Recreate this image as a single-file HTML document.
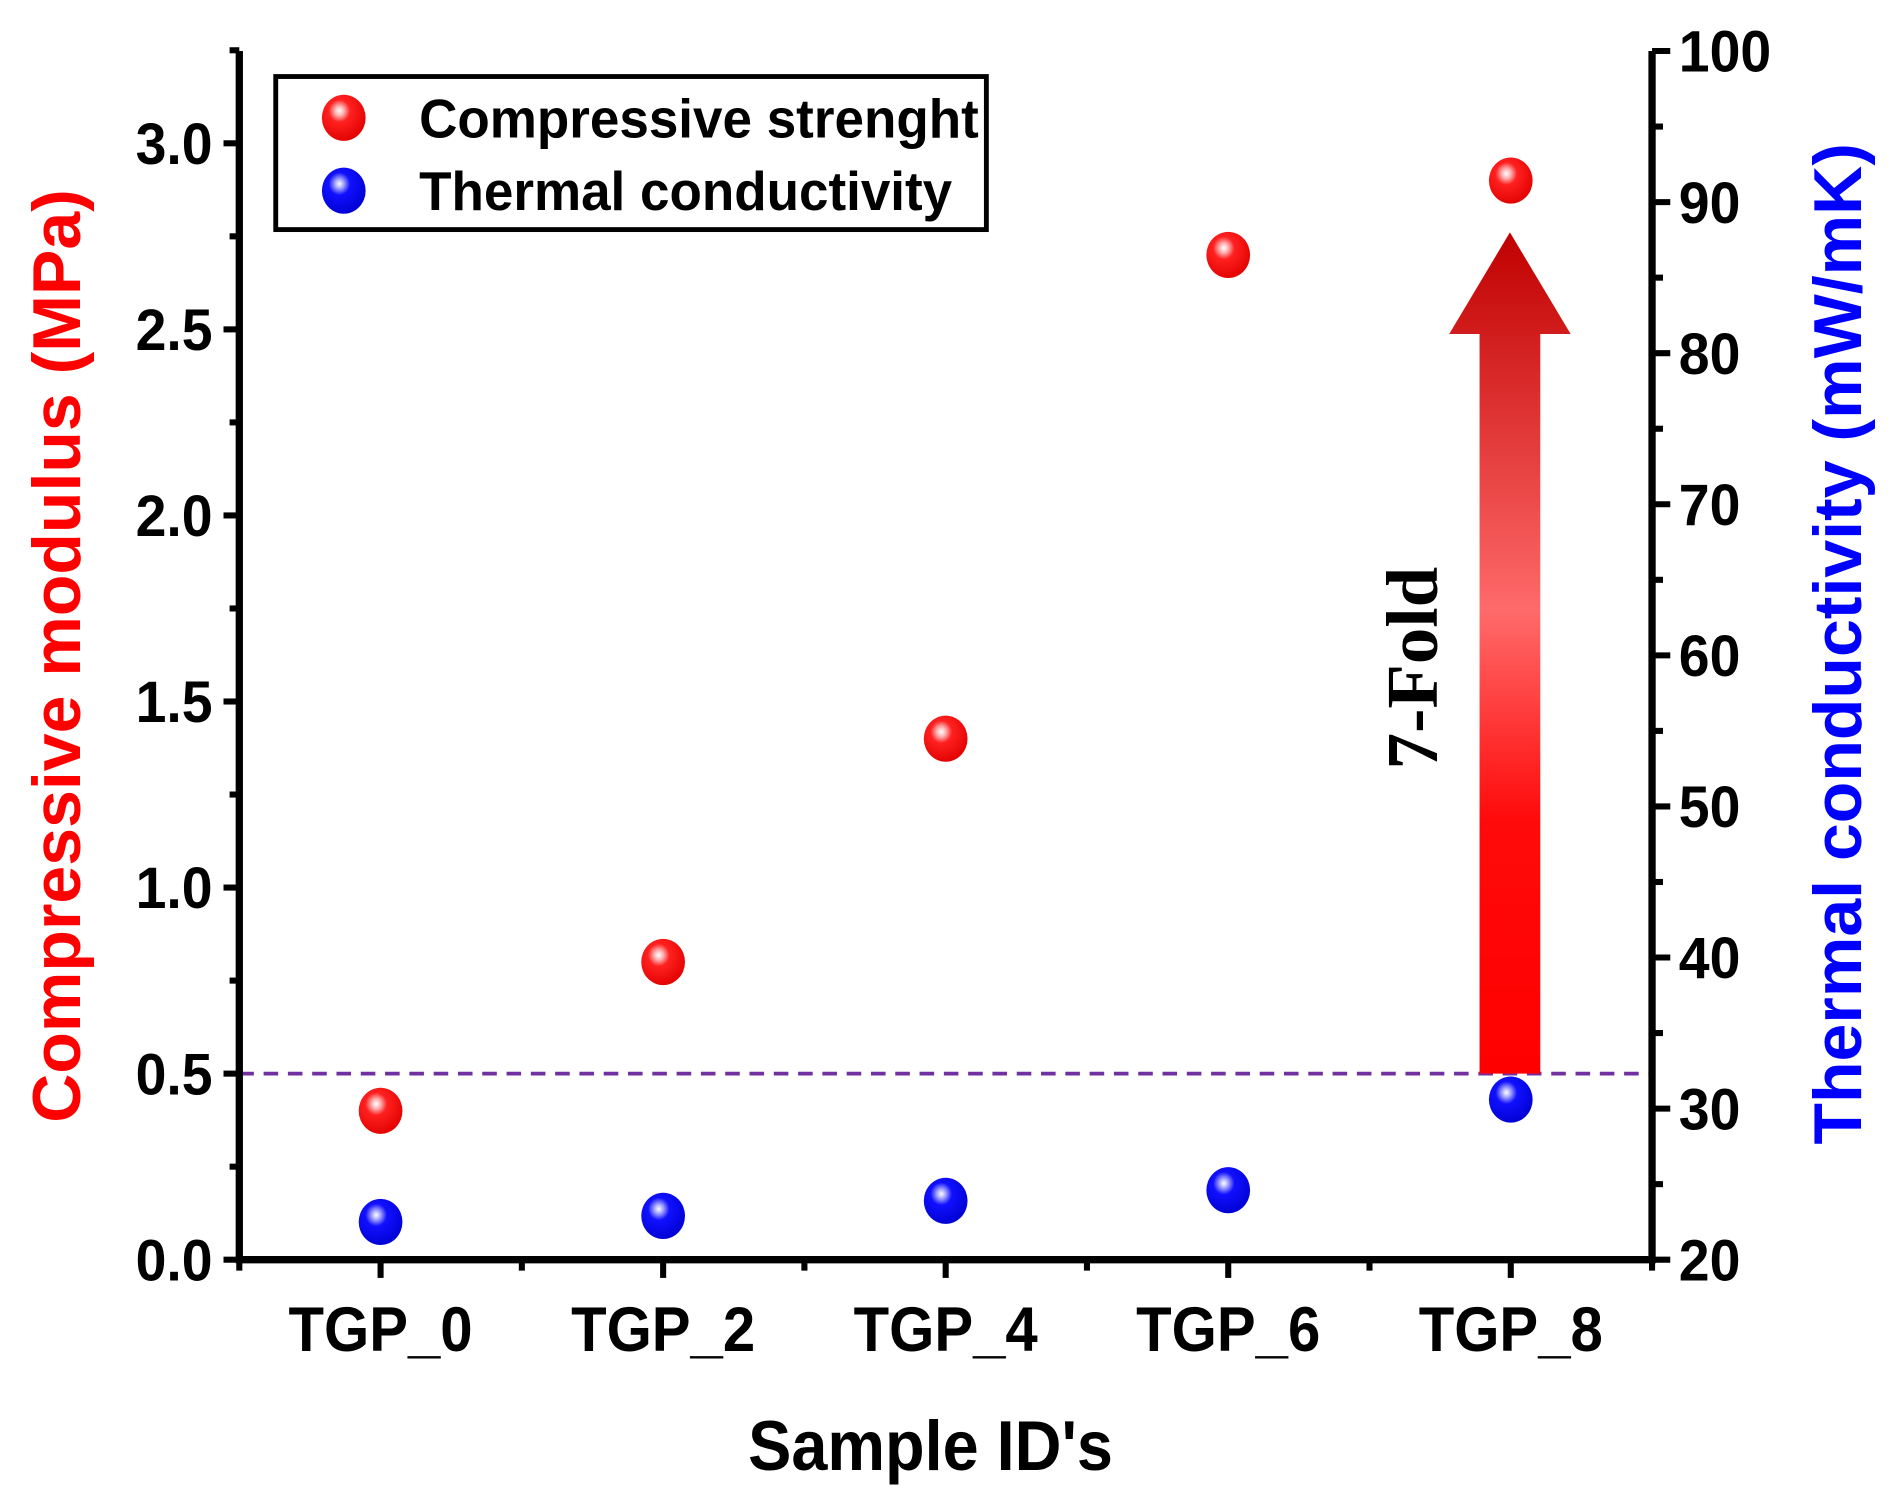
<!DOCTYPE html>
<html><head><meta charset="utf-8"><style>
html,body{margin:0;padding:0;background:#fff;}
svg{display:block;}
text{font-family:"Liberation Sans",Arial,sans-serif;font-weight:bold;}
</style></head><body>
<svg id="chart" width="1895" height="1499" viewBox="0 0 1560 1234">
<defs>
<radialGradient id="gRed" cx="0.4" cy="0.35" r="0.7">
<stop offset="0" stop-color="#ffffff"/><stop offset="0.15" stop-color="#ffb0b0"/><stop offset="0.35" stop-color="#ff2020"/><stop offset="1" stop-color="#e00000"/></radialGradient>
<radialGradient id="gBlue" cx="0.4" cy="0.35" r="0.7">
<stop offset="0" stop-color="#ffffff"/><stop offset="0.15" stop-color="#a0a0ff"/><stop offset="0.35" stop-color="#1010ff"/><stop offset="1" stop-color="#0000d0"/></radialGradient>
<linearGradient id="gArrow" x1="0" y1="0" x2="0" y2="1">
<stop offset="0" stop-color="#c00000"/><stop offset="0.45" stop-color="#ff6a6a"/><stop offset="0.7" stop-color="#ff0a0a"/><stop offset="1" stop-color="#ff0000"/></linearGradient>
</defs>
<g id="plot"></g>
</svg>
<script>
const categories=["TGP_0","TGP_2","TGP_4","TGP_6","TGP_8"];
const strengthValues=[0.4,0.8,1.4,2.7,2.9];
const conductivityValues=[22.5,22.9,23.9,24.6,30.6];
const leftTicks=[0.0,0.5,1.0,1.5,2.0,2.5,3.0];
const rightTicks=[20,30,40,50,60,70,80,90,100];
const refLine=0.5;

const L=197,R=1360,T=42,B=1037;
const yL=v=>B-(v/3.248)*(B-T);
const yR=v=>B-((v-20)/80)*(B-T);
const xC=i=>L+(i+0.5)*(R-L)/categories.length;
const NS="http://www.w3.org/2000/svg";
const g=document.getElementById('plot');
function mk(tag,attrs,parent){const e=document.createElementNS(NS,tag);for(const k in attrs)e.setAttribute(k,attrs[k]);(parent||g).appendChild(e);return e;}

let e=mk('line',{x1:L,x2:R,y1:yL(refLine),y2:yL(refLine),stroke:'#7030a0','stroke-width':3,'stroke-dasharray':'12,8'});



const ay0=yL(refLine), tip=yR(88);
e=mk('polygon',{points:`1218,${ay0} 1268,${ay0} 1268,275 1293,275 1243,${tip} 1193,275 1218,275`,fill:'url(#gArrow)'});


e=mk('text',{x:0,y:0,transform:'translate(1183,550) rotate(-90)','text-anchor':'middle','font-size':60,style:'font-family:"Liberation Serif",serif;font-weight:bold'});
e.textContent='7-Fold';



e=mk('path',{d:`M${L},${T} V${B} H${R} V${T}`,fill:'none',stroke:'#000','stroke-width':6});



leftTicks.forEach(v=>{
 const y=yL(v);
 let t=mk('line',{x1:L-13,x2:L,y1:y,y2:y,stroke:'#000','stroke-width':5});
 
 
 let m=mk('line',{x1:L-8,x2:L,y1:yL(v+0.25),y2:yL(v+0.25),stroke:'#000','stroke-width':5});
 
 
 let tx=mk('text',{x:0,y:0,transform:`translate(${L-22},${y+17}) scale(0.95,1)`,'text-anchor':'end','font-size':48});
 tx.textContent=v.toFixed(1);
 
 
});
rightTicks.forEach(v=>{
 const y=yR(v);
 let t=mk('line',{x1:R,x2:R+15,y1:y,y2:y,stroke:'#000','stroke-width':5});
 
 
 if(v<100){let m=mk('line',{x1:R,x2:R+9,y1:yR(v+5),y2:yR(v+5),stroke:'#000','stroke-width':5});
 
 }
 let tx=mk('text',{x:0,y:0,transform:`translate(${R+22},${y+17}) scale(0.95,1)`,'text-anchor':'start','font-size':48});
 tx.textContent=v;
 
 
});
categories.forEach((c,i)=>{
 const x=xC(i);
 let t=mk('line',{x1:x,x2:x,y1:B,y2:B+15,stroke:'#000','stroke-width':5});
 
 
 let m=mk('line',{x1:x-(R-L)/10,x2:x-(R-L)/10,y1:B,y2:B+9,stroke:'#000','stroke-width':5});
 
 
 let tx=mk('text',{x:0,y:0,transform:`translate(${x},${B+75}) scale(0.92,1)`,'text-anchor':'middle','font-size':52});
 tx.textContent=c;
 
 
});
e=mk('line',{x1:R,x2:R,y1:B,y2:B+9,stroke:'#000','stroke-width':5});



strengthValues.forEach((v,i)=>{
 let c=mk('ellipse',{cx:xC(i),cy:yL(v),rx:18,ry:19,fill:'url(#gRed)'});
 
 
});
conductivityValues.forEach((v,i)=>{
 let c=mk('ellipse',{cx:xC(i),cy:yR(v),rx:18,ry:19,fill:'url(#gBlue)'});
 
 
});

e=mk('text',{x:0,y:0,transform:'translate(66,540) rotate(-90)','text-anchor':'middle','font-size':56,fill:'#ff0000'});
e.textContent='Compressive modulus (MPa)';


e=mk('text',{x:0,y:0,transform:'translate(1532,530) rotate(-90)','text-anchor':'middle','font-size':56,fill:'#0000ff'});
e.textContent='Thermal conductivity (mW/mK)';


e=mk('text',{x:0,y:0,transform:'translate(766,1210) scale(0.92,1)','text-anchor':'middle','font-size':58});
e.textContent="Sample ID's";



const lg=mk('g',{});


e=mk('rect',{x:227,y:63,width:585,height:126,fill:'#fff',stroke:'#000','stroke-width':4},lg);


[['Compressive strenght','url(#gRed)',97],['Thermal conductivity','url(#gBlue)',157]].forEach(([t,f,y])=>{
 let c=mk('ellipse',{cx:283,cy:y,rx:18,ry:19,fill:f},lg);
 
 
 let tx=mk('text',{x:0,y:0,transform:`translate(345,${y+16}) scale(0.97,1)`,'font-size':45},lg);
 tx.textContent=t;
 
 
});
</script>
</body></html>
